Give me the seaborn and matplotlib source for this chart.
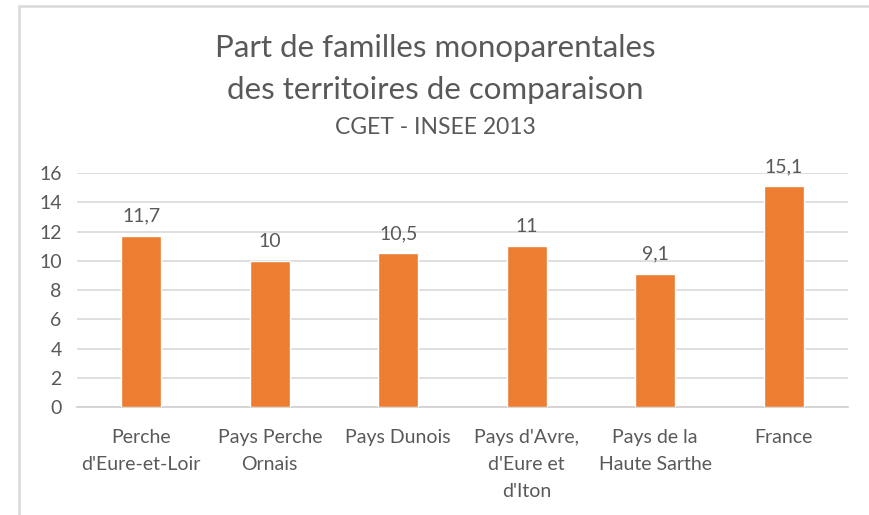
import pandas as pd
from matplotlib import pyplot as plt
from matplotlib.patches import Rectangle
import seaborn as sns

sns.set_theme(style="white")
plt.rcParams["font.family"] = ["Lato", "DejaVu Sans"]

territoires = ["Perche\nd'Eure-et-Loir", "Pays Perche\nOrnais", "Pays Dunois",
               "Pays d'Avre,\nd'Eure et\nd'Iton", "Pays de la\nHaute Sarthe", "France"]
part = [11.7, 10, 10.5, 11, 9.1, 15.1]

df = pd.DataFrame({"Territoire": territoires, "Part": part})

grey = "#595959"
orange = "#ED7D31"

fig = plt.figure(figsize=(8.7, 5.15), dpi=100)
ax = fig.add_axes([77 / 870, 1 - 407 / 515, (848 - 77) / 870, (407 - 173) / 515])

sns.barplot(data=df, x="Territoire", y="Part", color=orange, saturation=1,
            width=0.31, ax=ax, zorder=3)

ax.set_ylim(0, 16)
ax.set_yticks(range(0, 17, 2))
ax.yaxis.grid(True, color="#d9d9d9", linewidth=1.2, zorder=0)
ax.set_axisbelow(True)
for s in ["top", "right", "left"]:
    ax.spines[s].set_visible(False)
ax.spines["bottom"].set_color("#d0d0d0")
ax.spines["bottom"].set_linewidth(1.2)
ax.tick_params(axis="y", length=0, pad=11, labelsize=14, labelcolor=grey)
ax.tick_params(axis="x", length=0, pad=16, labelsize=14, labelcolor=grey)
for lab in ax.get_xticklabels():
    lab.set_linespacing(1.7)
ax.set_xlabel("")
ax.set_ylabel("")

# etiquettes de valeurs
ax.bar_label(ax.containers[0], labels=[f"{v:g}".replace(".", ",") for v in part],
             padding=8, fontsize=14, color=grey)

# titre
fig.text(0.5, 1 - 48 / 515, "Part de familles monoparentales", ha="center", va="center",
         fontsize=22.5, color=grey)
fig.text(0.5, 1 - 90 / 515, "des territoires de comparaison", ha="center", va="center",
         fontsize=22.5, color=grey)
fig.text(0.5, 1 - 128 / 515, "CGET - INSEE 2013", ha="center", va="center",
         fontsize=16.5, color=grey)

# cadre du graphique
fig.patches.append(Rectangle((19 / 870, -0.1), 1.2, 1 - 6 / 515 + 0.1,
                             transform=fig.transFigure, fill=False,
                             edgecolor="#d9d9d9", linewidth=1.8))

fig.savefig("out.png", dpi=100)
